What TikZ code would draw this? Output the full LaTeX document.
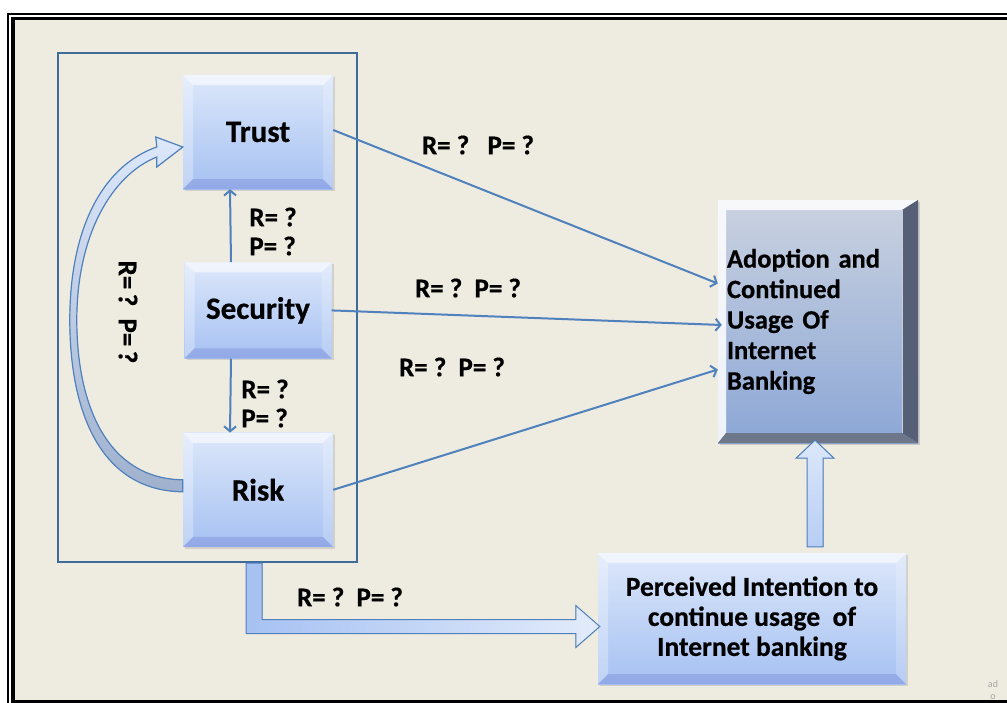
\documentclass[tikz,border=0pt]{standalone}
\usepackage{fontspec}
\setmainfont{Carlito}[BoldFeatures={FakeBold=0.6}]
\usepackage{xcolor}
\usepackage{tikz}
\usetikzlibrary{arrows.meta, shadows}
\usetikzlibrary{positioning, calc}

\definecolor{paper}{HTML}{EEEBE1}
\definecolor{linkblue}{HTML}{4F81BD}
\definecolor{grpblue}{HTML}{3F6B99}
\definecolor{boxtop}{HTML}{DCE7FA}
\definecolor{boxbot}{HTML}{A6C1F2}
\definecolor{adtop}{HTML}{CAD2E0}
\definecolor{adbot}{HTML}{8CA7D6}
\definecolor{adside}{HTML}{555F75}
\definecolor{loopbot}{HTML}{9FB1CE}

\tikzset{bevel/.style={path picture={
  \path (path picture bounding box.north west) coordinate (bnw)
        (path picture bounding box.north east) coordinate (bne)
        (path picture bounding box.south east) coordinate (bse)
        (path picture bounding box.south west) coordinate (bsw);
  \fill[white, opacity=.6] (bnw) -- (bne) -- ([shift={(-#1,-#1)}]bne) -- ([shift={(#1,-#1)}]bnw) -- cycle;
  \fill[white, opacity=.3] (bnw) -- ([shift={(#1,-#1)}]bnw) -- ([shift={(#1,#1)}]bsw) -- (bsw) -- cycle;
  \fill[white, opacity=.2] (bne) -- ([shift={(-#1,-#1)}]bne) -- ([shift={(-#1,#1)}]bse) -- (bse) -- cycle;
  \fill[blue!60!black, opacity=.12] (bsw) -- ([shift={(#1,#1)}]bsw) -- ([shift={(-#1,#1)}]bse) -- (bse) -- cycle;
}}}
\tikzset{slab/.style={path picture={
  \path (path picture bounding box.north west) coordinate (bnw)
        (path picture bounding box.north east) coordinate (bne)
        (path picture bounding box.south east) coordinate (bse)
        (path picture bounding box.south west) coordinate (bsw);
  \fill[white, opacity=.85] (bnw) -- (bne) -- ([shift={(-16pt,-10pt)}]bne) -- ([shift={(8pt,-10pt)}]bnw) -- cycle;
  \fill[white, opacity=.85] (bnw) -- ([shift={(8pt,-10pt)}]bnw) -- ([shift={(8pt,10pt)}]bsw) -- (bsw) -- cycle;
  \fill[adside] (bne) -- ([shift={(-16pt,-10pt)}]bne) -- ([shift={(-16pt,10pt)}]bse) -- (bse) -- cycle;
  \fill[adside!85] (bsw) -- ([shift={(8pt,10pt)}]bsw) -- ([shift={(-16pt,10pt)}]bse) -- (bse) -- cycle;
  \draw[white!70!adside, line width=1pt] ([shift={(-16pt,-10pt)}]bne) -- ([shift={(-16pt,10pt)}]bse);
}}}

\tikzstyle{factor} = [rectangle, minimum width=150pt, minimum height=114pt, text centered,
top color=boxtop, bottom color=boxbot, bevel=10pt,
drop shadow={shadow xshift=2pt, shadow yshift=-2pt, opacity=.25},
font=\fontsize{31}{33}\selectfont\bfseries]
\tikzstyle{outcome} = [rectangle, minimum width=200pt, minimum height=243pt, text width=182pt,
inner sep=9pt, align=left, top color=adtop, bottom color=adbot, slab,
drop shadow={shadow xshift=2pt, shadow yshift=-2pt, opacity=.3},
font=\fontsize{26.5}{30.5}\selectfont\bfseries]
\tikzstyle{arrow} = [line width=2pt, draw=linkblue, ->, >={Straight Barb[length=5pt,width=12pt]}]
\tikzstyle{fatarrow} = [draw=linkblue, line width=1pt, left color=boxbot, right color=boxtop!80!white]
\tikzstyle{uparrow} = [draw=linkblue, line width=1pt, top color=boxtop, bottom color=boxbot!80!white]
\tikzstyle{loopband} = [draw=linkblue, line width=1.2pt, top color=boxtop, bottom color=loopbot]
\tikzstyle{coef} = [font=\fontsize{27}{29}\selectfont\bfseries, align=left]

\begin{document}
\begin{tikzpicture}[x=1pt, y=-1pt]
    \useasboundingbox (0,0) rectangle (1007,702);
    % page frame
    \fill[paper] (13,18) rectangle (1030,720);
    \draw[line width=2pt] (8.3,14) rectangle (1030,720);
    \draw[line width=3.6pt] (13,18.4) rectangle (1025,702);

    \node (grp) [draw=grpblue, line width=2pt, minimum width=299pt, minimum height=509pt] at (207.5,307.5) {};
    \node (trust) [factor] at (258,132) {Trust};
    \node (security) [factor, minimum width=147pt, minimum height=96pt, below=73pt of trust] {Security};
    \node (risk) [factor, below=74pt of security] {Risk};
    \node (adopt) [outcome] at (818,321.5)
    {Adoption and\\Continued\\Usage Of\\Internet\\Banking};
    \node (perc) [factor, minimum width=308pt, minimum height=131pt, align=center,
      font=\fontsize{27.5}{30}\selectfont\bfseries] at (752,618.5)
    {Perceived Intention to\\continue usage\ \ of\\Internet banking};

    % coefficients
    \node (c1) [coef] at (478,145) {R= ?\ \ \ P= ?};
    \node (c2) [coef] at (468,288) {R= ?\ \ P= ?};
    \node (c3) [coef] at (452,367) {R= ?\ \ P= ?};
    \node (c4) [coef] at (350,597) {R= ?\ \ P= ?};
    \node (c5) [coef] at (273,231.5) {R= ?\\P= ?};
    \node (c6) [coef] at (265,403.5) {R= ?\\P= ?};
    \node (c7) [coef, rotate=-90] at (128,312) {R=\,?\ \ P=\,?};
    \node (mark) [font=\fontsize{10}{12}\selectfont, text=gray!70, align=center] at (993,690) {ad\\o};

    % wide arrows
    \coordinate (ub) at ($(perc.north)+(63,-6)$);
    \coordinate (ut) at ($(adopt.south)+(-3,-3)$);
    \filldraw[uparrow] ($(ub)+(-8,0)$) -- ($(ub)+(8,0)$) -- ($(ut)+(8,18)$) -- ($(ut)+(19,18)$)
      -- (ut) -- ($(ut)+(-19,18)$) -- ($(ut)+(-8,18)$) -- cycle;
    \coordinate (lb) at ($(grp.south)+(46.5,0)$);
    \coordinate (lt) at ($(perc.west)+(2,8)$);
    \filldraw[fatarrow] ($(lb)+(-8,0)$) -- ($(lb |- lt)+(-8,7)$) -- ($(lt)+(-24,7)$) -- ($(lt)+(-24,21)$)
      -- (lt) -- ($(lt)+(-24,-21)$) -- ($(lt)+(-24,-7)$) -- ($(lb |- lt)+(8,-7)$) -- ($(lb)+(8,0)$) -- cycle;
    \filldraw[loopband] ($(risk.west)+(0,2)$) .. controls ($(risk.west)+(-83,1)$) and ($(risk.west)+(-113,-79)$)
      .. ($(trust.west)+(-113,188)$) .. controls ($(trust.west)+(-113,93)$) and ($(trust.west)+(-78,33)$)
      .. ($(trust.west)+(-26,15)$) -- ($(trust.west)+(-27,5)$) -- ($(trust.west)+(0,15)$)
      -- ($(trust.west)+(-26,35)$) -- ($(trust.west)+(-26,25)$)
      .. controls ($(trust.west)+(-71,43)$) and ($(trust.west)+(-106,103)$) .. ($(trust.west)+(-106,188)$)
      .. controls ($(risk.west)+(-106,-84)$) and ($(risk.west)+(-75,-11)$) .. ($(risk.west)+(0,-10)$) -- cycle;

    % thin arrows
    \draw[arrow] ([xshift=-27pt]security.north) -- ([xshift=-28pt]trust.south);
    \draw[arrow] ([xshift=-27pt]security.south) -- ([xshift=-28pt]risk.north);
    \draw[arrow] ([yshift=2pt]trust.east) -- ([yshift=38pt]adopt.west);
    \draw[arrow] (security.east) -- ([xshift=4pt,yshift=-3.5pt]adopt.west);
    \draw[arrow] (risk.east) -- ([yshift=-48pt]adopt.west);
  \end{tikzpicture}
\end{document}
